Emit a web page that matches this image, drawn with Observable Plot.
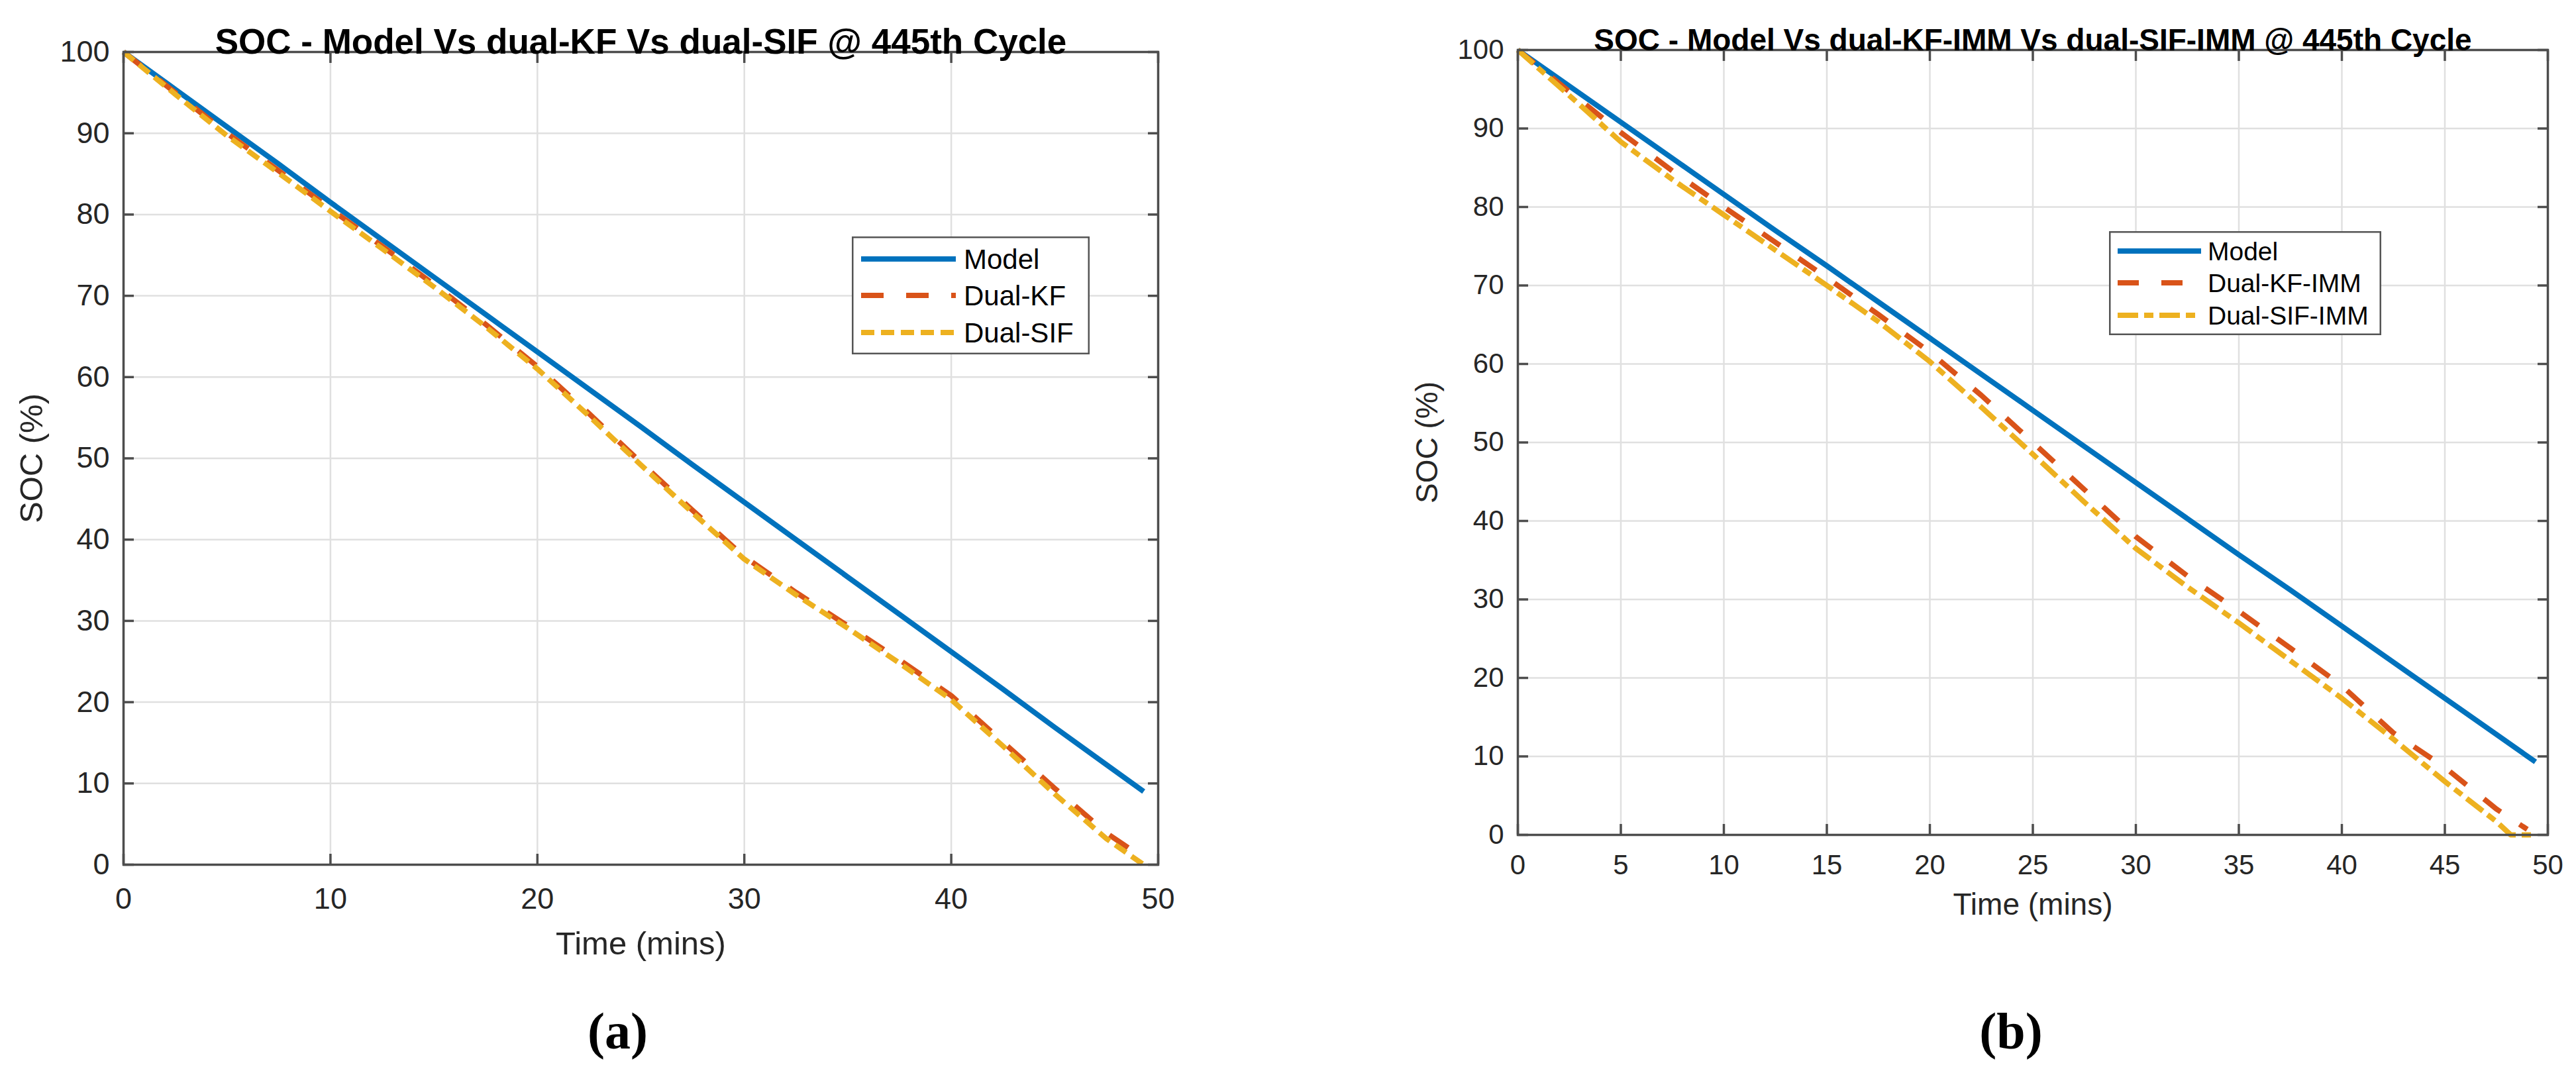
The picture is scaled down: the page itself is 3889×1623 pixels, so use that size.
<!DOCTYPE html>
<html>
<head>
<meta charset="utf-8">
<script src="https://cdn.jsdelivr.net/npm/d3@7"></script>
<script src="https://cdn.jsdelivr.net/npm/@observablehq/plot@0.6"></script>
<style>
html, body { margin: 0; padding: 0; background: #fff; }
#root { position: relative; width: 3889px; height: 1623px; overflow: hidden; background: #fff; font-family: "Liberation Sans", Arial, sans-serif; }
.panel { position: absolute; top: 0; }
.legend { position: absolute; }
</style>
</head>
<body>
<div id="root"></div>
<script>
// ---------------- DATA ----------------
// Panel (a)
const titleA = "SOC - Model Vs dual-KF Vs dual-SIF @ 445th Cycle";
const timeA = [0, 2.5, 5, 7.5, 10, 12.5, 15, 17.5, 20, 22.5, 25, 27.5, 30, 32.5, 35, 37.5, 40, 42.5, 45, 47.5, 49.3];
const modelA = [100, 95.4, 90.8, 86.2, 81.5, 76.9, 72.3, 67.7, 63.1, 58.5, 53.9, 49.2, 44.6, 40.0, 35.4, 30.8, 26.2, 21.6, 16.9, 12.3, 9.0];
const dualKFA = [100, 95.0, 90.0, 85.4, 80.7, 76.1, 71.4, 66.5, 61.3, 55.5, 49.5, 43.6, 37.9, 33.5, 29.4, 25.2, 20.8, 15.1, 9.4, 3.9, 0.8];
const dualSIFA = [100, 94.8, 89.7, 85.1, 80.4, 75.8, 71.1, 66.2, 61.0, 55.2, 49.2, 43.3, 37.6, 33.2, 29.1, 24.8, 20.3, 14.6, 8.7, 3.2, 0];
const legendA = ["Model", "Dual-KF", "Dual-SIF"];
const xTicksA = [0, 10, 20, 30, 40, 50];

// Panel (b)
const titleB = "SOC - Model Vs dual-KF-IMM Vs dual-SIF-IMM @ 445th Cycle";
const timeB = [0, 2.5, 5, 7.5, 10, 12.5, 15, 17.5, 20, 22.5, 25, 27.5, 30, 32.5, 35, 37.5, 40, 42.5, 45, 47.5, 48.2, 49.0, 49.4];
const modelB = [100, 95.4, 90.8, 86.2, 81.6, 77.0, 72.5, 67.9, 63.3, 58.7, 54.1, 49.5, 44.9, 40.3, 35.7, 31.2, 26.6, 22.0, 17.4, 12.8, null, null, 9.3];
const dualKFIMMB = [100, 94.7, 89.5, 84.6, 80.0, 75.5, 71.0, 66.3, 61.5, 56.0, 50.0, 44.0, 38.0, 33.0, 28.5, 23.8, 19.0, 13.0, 8.6, 3.3, null, 0.7, null];
const dualSIFIMMB = [100, 94.2, 88.3, 83.5, 79.0, 74.5, 70.0, 65.4, 60.3, 54.5, 48.5, 42.4, 36.5, 31.6, 27.0, 22.2, 17.4, 12.2, 6.8, 1.7, 0, null, 0];
const legendB = ["Model", "Dual-KF-IMM", "Dual-SIF-IMM"];
const xTicksB = [0, 5, 10, 15, 20, 25, 30, 35, 40, 45, 50];

// shared
const yTicks = [0, 10, 20, 30, 40, 50, 60, 70, 80, 90, 100];
const xLabel = "Time (mins)";
const yLabel = "SOC (%)";
const letters = ["(a)", "(b)"];

// ---------------- STYLE ----------------
const colors = ["#0072BD", "#D95319", "#EDB120"];
const axisColor = "#4d4d4d";
const gridColor = "#e0e0e0";
const textColor = "#262626";

function rowsOf(time, values) {
  return time.map((t, i) => ({ t, v: values[i] })).filter(d => d.v != null);
}

function panel(cfg) {
  const marks = [
    Plot.gridX(cfg.xTicks, { stroke: gridColor, strokeOpacity: 1, strokeWidth: 2.5 }),
    Plot.gridY(yTicks, { stroke: gridColor, strokeOpacity: 1, strokeWidth: 2.5 })
  ];
  cfg.series.forEach((s, i) => {
    marks.push(Plot.line(rowsOf(cfg.time, s), {
      x: "t", y: "v", stroke: colors[i], strokeWidth: 8,
      strokeDasharray: cfg.dashes[i], strokeLinecap: "butt", strokeLinejoin: "round"
    }));
  });
  marks.push(
    Plot.frame({ stroke: axisColor, strokeWidth: 3.5 }),
    Plot.axisX(cfg.xTicks, { anchor: "bottom", tickSize: -16, fill: "none", stroke: axisColor, strokeWidth: 3.5, label: null }),
    Plot.axisX(cfg.xTicks, { anchor: "top", tickSize: -16, fill: "none", stroke: axisColor, strokeWidth: 3.5, label: null }),
    Plot.axisY(yTicks, { anchor: "left", tickSize: -16, fill: "none", stroke: axisColor, strokeWidth: 3.5, label: null }),
    Plot.axisY(yTicks, { anchor: "right", tickSize: -16, fill: "none", stroke: axisColor, strokeWidth: 3.5, label: null }),
    Plot.axisX(cfg.xTicks, { anchor: "bottom", tickSize: 0, tickPadding: cfg.padX, fontSize: cfg.tickFont, fill: textColor, tickFormat: d => String(d), label: null }),
    Plot.axisY(yTicks, { anchor: "left", tickSize: 0, tickPadding: 21, fontSize: cfg.tickFont, fill: textColor, tickFormat: d => String(d), label: null }),
    Plot.text([cfg.title], { text: d => d, frameAnchor: "top", textAnchor: "middle", lineAnchor: "bottom", dy: cfg.titleDy, fontSize: cfg.titleFont, fontWeight: "bold", fill: "#000" }),
    Plot.text([xLabel], { text: d => d, frameAnchor: "bottom", textAnchor: "middle", lineAnchor: "middle", dy: cfg.xLabelDy, fontSize: cfg.labelFont, fill: textColor }),
    Plot.text([yLabel], { text: d => d, frameAnchor: "left", textAnchor: "middle", lineAnchor: "middle", dx: cfg.yLabelDx, rotate: -90, fontSize: cfg.labelFont, fill: textColor }),
    Plot.text([cfg.letter], { text: d => d, frameAnchor: "bottom", textAnchor: "middle", lineAnchor: "middle", dx: cfg.letterDx, dy: cfg.letterDy, fontSize: 78, fontWeight: "bold", fontFamily: "'Liberation Serif', 'Times New Roman', serif", fill: "#000" })
  );
  const svg = Plot.plot({
    width: cfg.W, height: 1623,
    marginLeft: cfg.mL, marginRight: cfg.mR, marginTop: cfg.mT, marginBottom: cfg.mB,
    x: { domain: [0, 50] },
    y: { domain: [0, 100] },
    style: { fontFamily: "'Liberation Sans', Arial, sans-serif", fontSize: cfg.tickFont + "px", background: "transparent", overflow: "visible", color: textColor },
    marks
  });
  svg.classList.add("panel");
  svg.style.left = cfg.left + "px";
  svg.style.position = "absolute";
  svg.style.top = "0px";
  return svg;
}

function legend(cfg) {
  const svg = d3.create("svg")
    .attr("class", "legend")
    .attr("width", cfg.w).attr("height", cfg.h)
    .style("left", cfg.left + "px").style("top", cfg.top + "px")
    .style("position", "absolute");
  svg.append("rect").attr("x", 1.25).attr("y", 1.25).attr("width", cfg.w - 2.5).attr("height", cfg.h - 2.5)
    .attr("fill", "#fff").attr("stroke", "#555").attr("stroke-width", 2.5);
  cfg.labels.forEach((lab, i) => {
    const y = cfg.rows[i];
    svg.append("line").attr("x1", cfg.sx1).attr("x2", cfg.sx2).attr("y1", y).attr("y2", y)
      .attr("stroke", colors[i]).attr("stroke-width", 8)
      .attr("stroke-dasharray", cfg.dashes[i] || null);
    svg.append("text").attr("x", cfg.tx).attr("y", y).attr("dy", "0.35em")
      .attr("font-family", "'Liberation Sans', Arial, sans-serif")
      .attr("font-size", cfg.font).attr("fill", "#000").text(lab);
  });
  return svg.node();
}

const root = document.getElementById("root");
const dashesA = [null, "34,34", "20,10"];
const dashesB = [null, "32,34", "31,9,14,9"];

root.appendChild(panel({
  left: 0, W: 1900, mL: 186, mR: 152, mT: 78, mB: 318,
  time: timeA, series: [modelA, dualKFA, dualSIFA], dashes: dashesA,
  xTicks: xTicksA, padX: 35, tickFont: 45, labelFont: 49, titleFont: 53, titleDy: 2,
  title: titleA, xLabelDy: 120, yLabelDx: -138, letter: letters[0], letterDx: -35, letterDy: 253
}));
root.appendChild(panel({
  left: 2000, W: 1889, mL: 291, mR: 43, mT: 75, mB: 363,
  time: timeB, series: [modelB, dualKFIMMB, dualSIFIMMB], dashes: dashesB,
  xTicks: xTicksB, padX: 30, tickFont: 42, labelFont: 46, titleFont: 46, titleDy: 0,
  title: titleB, xLabelDy: 106, yLabelDx: -136, letter: letters[1], letterDx: -33, letterDy: 298
}));
root.appendChild(legend({
  left: 1286, top: 357, w: 359, h: 178, rows: [34, 89, 145], sx1: 14, sx2: 157, tx: 169, font: 42,
  labels: legendA, dashes: dashesA
}));
root.appendChild(legend({
  left: 3184, top: 349, w: 411, h: 157, rows: [30, 78, 127], sx1: 13, sx2: 139, tx: 149, font: 39,
  labels: legendB, dashes: dashesB
}));
</script>
</body>
</html>
